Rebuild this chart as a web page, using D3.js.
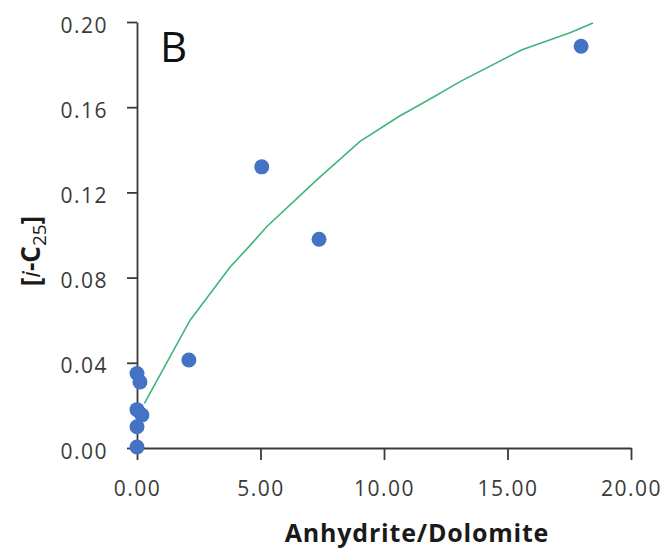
<!DOCTYPE html>
<html>
<head>
<meta charset="utf-8">
<script src="https://cdn.jsdelivr.net/npm/d3@7"></script>
<style>
  body { margin: 0; background: #fff; }
  svg text { font-family: "Open Sans", sans-serif; }
</style>
</head>
<body>
<div id="chart"></div>
<script>
// measured points
const ratio = [0.0, 0.12, 0.0, 0.2, 0.0, 0.0, 2.1, 5.05, 7.37, 17.98];
const ic25 = [0.035, 0.031, 0.018, 0.0155, 0.010, 0.0005, 0.0413, 0.132, 0.098, 0.1886];

// trend line
const fitX = [0.3, 2.15, 3.77, 4.57, 5.26, 7.29, 9.03, 10.65, 11.74, 13.08, 15.59, 17.53, 18.46];
const fitY = [0.021, 0.060, 0.085, 0.095, 0.104, 0.126, 0.144, 0.156, 0.163, 0.172, 0.187, 0.195, 0.1995];

const xTicks = [0, 5, 10, 15, 20];
const yTicks = [0, 0.04, 0.08, 0.12, 0.16, 0.20];

const width = 668, height = 551;

const svg = d3.select("#chart")
    .append("svg")
    .attr("width", width)
    .attr("height", height);

const x = d3.scaleLinear().domain([0, 20]).range([137, 631]);
const y = d3.scaleLinear().domain([0, 0.2]).range([448, 22]);

// axes
const xAxis = svg.append("g")
    .attr("transform", "translate(0,448)")
    .call(d3.axisBottom(x).tickValues(xTicks).tickFormat(d3.format(".2f"))
        .tickSize(12).tickSizeOuter(0).tickPadding(21));

const yAxis = svg.append("g")
    .attr("transform", "translate(137,0)")
    .call(d3.axisLeft(y).tickValues(yTicks).tickFormat(d3.format(".2f"))
        .tickSize(10).tickSizeOuter(0).tickPadding(19));

[xAxis, yAxis].forEach(function(g) {
    g.selectAll("path, line").attr("stroke", "#3a3a3a").attr("stroke-width", 1.8);
    g.selectAll("text")
        .attr("fill", "#3a3a3a")
        .style("font-size", "21px")
        .style("letter-spacing", "1.5px");
});
yAxis.selectAll("text").attr("dy", "0.48em");

// trend line
const pts = fitX.map(function(d, i) { return [d, fitY[i]]; });
svg.append("path")
    .datum(pts)
    .attr("fill", "none")
    .attr("stroke", "#3fb47c")
    .attr("stroke-width", 1.6)
    .attr("d", d3.line().x(function(d) { return x(d[0]); }).y(function(d) { return y(d[1]); }));

// dots
svg.selectAll("circle")
    .data(ratio)
    .enter()
    .append("circle")
    .attr("cx", function(d) { return x(d); })
    .attr("cy", function(d, i) { return y(ic25[i]); })
    .attr("r", 7.5)
    .attr("fill", "#4472c4");

// panel label
svg.append("text")
    .attr("x", 160)
    .attr("y", 62)
    .style("font-size", "42px")
    .attr("fill", "#111")
    .text("B");

// axis titles
svg.append("text")
    .attr("x", 417)
    .attr("y", 542)
    .attr("text-anchor", "middle")
    .style("font-size", "25px")
    .style("font-weight", "bold")
    .style("letter-spacing", "0.8px")
    .attr("fill", "#1a1a1a")
    .text("Anhydrite/Dolomite");

const yt = svg.append("text")
    .attr("transform", "translate(40,251) rotate(-90)")
    .attr("text-anchor", "middle")
    .style("font-size", "26px")
    .style("font-weight", "bold")
    .attr("fill", "#1a1a1a");
yt.append("tspan").text("[");
yt.append("tspan").style("font-style", "italic").style("font-weight", "normal").text("i");
yt.append("tspan").text("-C");
yt.append("tspan").attr("dy", 6).style("font-size", "19px").style("font-weight", "normal").text("25");
yt.append("tspan").attr("dy", -6).text("]");
</script>
</body>
</html>
